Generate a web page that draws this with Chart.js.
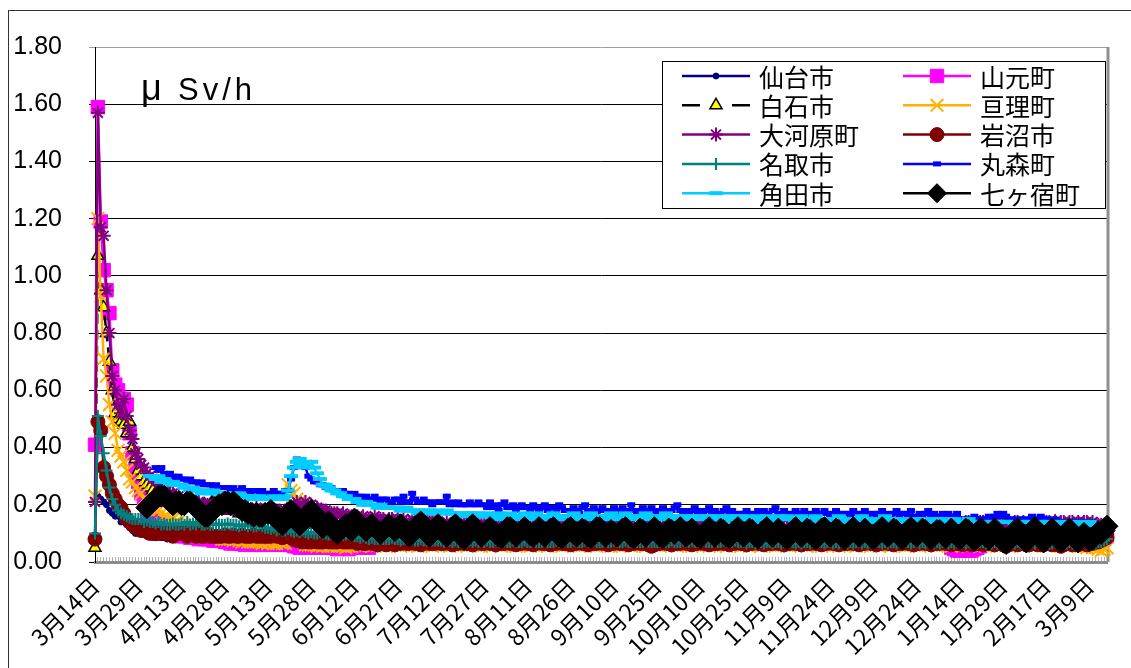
<!DOCTYPE html>
<html>
<head>
<meta charset="utf-8">
<script src="https://cdn.jsdelivr.net/npm/chart.js"></script>
<style>
  html, body { margin: 0; padding: 0; background: #fff; }
  canvas { display: block; }
</style>
</head>
<body>
<canvas id="doseChart" width="1131" height="668"></canvas>
<script>
// 宮城県南部 空間放射線量率 (μSv/h) 2011/3/14 - 2012/3/19

const firstDay = '2011-03-14'
const lastDay = '2012-03-19'
// 測定の無い日
const skippedDays = [
  '2011-12-29', '2011-12-30', '2011-12-31', '2012-01-01', '2012-01-02', '2012-01-03',
  '2012-02-04', '2012-02-05', '2012-02-11', '2012-02-12', '2012-02-18', '2012-02-19',
  '2012-02-25', '2012-02-26', '2012-03-03', '2012-03-04', '2012-03-10', '2012-03-11',
  '2012-03-17', '2012-03-18'
]

const dates = []
for (let d = new Date(firstDay + 'T00:00:00Z'); d <= new Date(lastDay + 'T00:00:00Z'); d.setUTCDate(d.getUTCDate() + 1)) {
  if (skippedDays.includes(d.toISOString().slice(0, 10))) continue
  dates.push((d.getUTCMonth() + 1) + '月' + d.getUTCDate() + '日')
}

const labelEvery = 15

const sendai = [
  null,0.23,0.22,0.21,0.20,0.18,0.17,0.16,0.16,0.14,0.15,0.13,0.12,0.11,0.10,
  0.10,0.10,0.095,0.09,0.09,0.09,0.085,0.09,0.085,0.085,0.08,0.085,0.08,0.08,0.08,
  0.08,0.08,0.075,0.08,0.075,0.08,0.08,0.075,0.08,0.075,0.08,0.075,0.075,0.08,0.075,
  0.08,0.08,0.075,0.08,0.08,0.075,0.08,0.075,0.08,0.075,0.075,0.08,0.075,0.075,0.075,
  0.075,0.075,0.07,0.075,0.075,0.07,0.075,0.07,0.07,0.07,0.07,0.07,0.07,0.07,0.07,
  0.07,0.07,0.07,0.065,0.07,0.07,0.065,0.07,0.07,0.065,0.07,0.065,0.065,0.07,0.065,
  0.065,0.07,0.065,0.065,0.065,0.07,0.065,0.065,0.065,0.065,0.07,0.065,0.065,0.065,0.065,
  0.065,0.065,0.07,0.065,0.065,0.065,0.065,0.06,0.065,0.065,0.065,0.065,0.06,0.065,0.065,
  0.065,0.065,0.065,0.06,0.065,0.065,0.065,0.065,0.06,0.065,0.065,0.065,0.06,0.065,0.065,
  0.065,0.06,0.065,0.065,0.065,0.065,0.06,0.065,0.065,0.065,0.06,0.065,0.065,0.06,0.065,
  0.065,0.065,0.06,0.065,0.065,0.065,0.06,0.065,0.065,0.06,0.065,0.065,0.065,0.06,0.065,
  0.065,0.06,0.065,0.065,0.06,0.065,0.065,0.065,0.06,0.065,0.065,0.06,0.065,0.065,0.06,
  0.065,0.065,0.06,0.065,0.065,0.06,0.065,0.065,0.065,0.06,0.065,0.065,0.06,0.065,0.065,
  0.06,0.065,0.065,0.06,0.065,0.065,0.06,0.065,0.065,0.06,0.065,0.065,0.065,0.06,0.065,
  0.065,0.06,0.065,0.065,0.06,0.065,0.06,0.065,0.065,0.06,0.065,0.06,0.065,0.065,0.06,
  0.065,0.06,0.06,0.065,0.06,0.065,0.06,0.06,0.065,0.06,0.065,0.06,0.06,0.065,0.06,
  0.06,0.065,0.06,0.06,0.065,0.06,0.06,0.065,0.06,0.06,0.065,0.06,0.06,0.065,0.06,
  0.06,0.06,0.065,0.06,0.06,0.065,0.06,0.06,0.06,0.065,0.06,0.06,0.065,0.06,0.06,
  0.06,0.065,0.06,0.06,0.06,0.065,0.06,0.06,0.065,0.06,0.06,0.06,0.065,0.06,0.06,
  0.06,0.06,0.065,0.06,0.06,0.06,0.065,0.06,0.06,0.06,0.065,0.06,0.06,0.06,0.06,
  0.06,0.065,0.06,0.06,0.06,0.06,0.065,0.06,0.06,0.06,0.06,0.065,0.06,0.06,0.06,
  0.06,0.06,0.06,0.065,0.06,0.06,0.06,0.06,0.065,0.06,0.06,0.06,0.06,0.065,0.06,
  0.06,0.06,0.065,0.06,0.06,0.06,0.06,0.065,0.06,0.06,0.06,0.065,0.06,0.06,0.06,
  0.06,0.065,0.06,0.06,0.065,0.07,0.075
]

const yamamoto = [
  0.41,1.59,1.19,1.02,0.95,0.87,0.67,0.62,0.60,0.57,0.57,0.55,0.45,0.38,0.32,
  0.28,0.24,0.21,0.18,0.16,0.15,0.14,0.13,0.12,0.12,0.11,0.11,0.10,0.10,0.10,
  0.09,0.09,0.09,0.085,0.09,0.085,0.08,0.085,0.08,0.08,0.08,0.075,0.075,0.08,0.075,
  0.07,0.07,0.065,0.065,0.07,0.065,0.065,0.06,0.065,0.065,0.06,0.065,0.065,0.06,0.065,
  0.065,0.065,0.06,0.065,0.065,0.06,0.065,0.06,0.06,0.055,0.055,0.05,0.055,0.05,0.05,
  0.05,0.055,0.05,0.05,0.05,0.055,0.05,0.05,0.05,0.045,0.05,0.05,0.05,0.045,0.05,
  0.05,0.05,0.05,0.05,0.055,0.05,0.06,0.065,0.065,0.07,0.065,0.065,0.07,0.065,0.065,
  null,null,null,null,null,null,null,null,null,null,null,null,null,null,null,
  null,null,null,null,null,null,null,null,null,null,null,null,null,null,null,
  null,null,null,null,null,null,null,null,null,null,null,null,null,null,null,
  null,null,null,null,null,null,null,null,null,null,null,null,null,null,null,
  null,null,null,null,null,null,null,null,null,null,null,null,null,null,null,
  null,null,null,null,null,null,null,null,null,null,null,null,null,null,null,
  null,null,null,null,null,null,null,null,null,null,null,null,null,null,null,
  null,null,null,null,null,null,null,null,null,null,null,null,null,null,null,
  null,null,null,null,null,null,null,null,null,null,null,null,null,null,null,
  null,null,null,null,null,null,null,null,null,null,null,null,null,null,null,
  null,null,null,null,null,null,null,null,null,null,null,null,null,null,null,
  null,null,null,null,null,null,null,null,null,null,null,null,null,null,null,
  null,null,null,null,null,null,null,null,null,null,null,null,0.05,0.045,0.04,
  0.04,0.04,0.045,0.04,0.04,0.045,0.05,0.055,null,null,null,null,null,null,null,
  null,null,null,null,null,null,null,null,null,null,null,null,null,null,null,
  null,null,null,null,null,null,null,null,null,null,null,null,null,null,null,
  null,null,null,null,0.07,0.08,0.09
]

const shiroishi = [
  0.05,1.07,0.95,0.89,0.80,0.70,0.60,0.52,0.50,0.49,0.48,0.45,0.49,0.40,0.36,
  0.32,0.30,0.28,0.27,0.26,0.25,0.24,0.24,0.23,0.23,0.22,0.22,0.21,0.22,0.21,
  0.21,0.20,0.21,0.20,0.20,0.21,0.20,0.19,0.20,0.19,0.20,0.25,0.19,0.19,0.18,
  0.18,0.19,0.18,0.18,0.18,0.17,0.18,0.17,0.17,0.17,0.17,0.16,0.17,0.16,0.16,
  0.16,0.16,0.15,0.15,0.15,0.14,0.15,0.15,0.14,0.14,0.14,0.14,0.14,0.13,0.14,
  0.13,0.13,0.13,0.12,0.12,0.12,0.12,0.12,0.11,0.11,0.11,0.11,0.11,0.11,0.11,
  0.11,0.11,0.10,0.11,0.10,0.10,0.10,0.11,0.10,0.10,0.10,0.10,0.10,0.10,0.10,
  0.10,0.10,0.09,0.10,0.10,0.09,0.10,0.10,0.10,0.09,0.10,0.10,0.09,0.10,0.10,
  0.10,0.09,0.10,0.10,0.09,0.10,0.10,0.10,0.09,0.10,0.10,0.09,0.10,0.10,0.09,
  0.10,0.10,0.09,0.10,0.10,0.09,0.10,0.09,0.10,0.10,0.09,0.10,0.10,0.09,0.10,
  0.10,0.09,0.10,0.10,0.09,0.10,0.10,0.09,0.10,0.10,0.10,0.09,0.10,0.10,0.09,
  0.10,0.10,0.09,0.10,0.10,0.09,0.10,0.10,0.09,0.10,0.10,0.09,0.10,0.09,0.10,
  0.09,0.10,0.10,0.09,0.10,0.10,0.09,0.10,0.10,0.09,0.10,0.10,0.09,0.10,0.10,
  0.10,0.09,0.10,0.10,0.09,0.10,0.10,0.09,0.10,0.09,0.10,0.10,0.09,0.10,0.10,
  0.09,0.10,0.10,0.09,0.10,0.10,0.09,0.10,0.10,0.09,0.10,0.09,0.10,0.10,0.09,
  0.10,0.10,0.09,0.10,0.09,0.10,0.10,0.09,0.10,0.10,0.09,0.10,0.10,0.09,0.10,
  0.09,0.10,0.10,0.09,0.10,0.10,0.09,0.10,0.09,0.10,0.10,0.09,0.10,0.10,0.09,
  0.10,0.09,0.10,0.10,0.09,0.10,0.10,0.09,0.10,0.10,0.09,0.10,0.09,0.10,0.10,
  0.09,0.10,0.10,0.09,0.10,0.09,0.10,0.10,0.09,0.10,0.10,0.09,0.10,0.10,0.09,
  0.10,0.10,0.09,0.10,0.10,0.09,0.10,0.09,0.10,0.10,0.09,0.10,0.10,0.09,0.10,
  0.09,0.10,0.10,0.09,0.10,0.10,0.09,0.10,0.10,0.09,0.10,0.09,0.10,0.10,0.09,
  0.10,0.09,0.10,0.10,0.09,0.10,0.10,0.09,0.10,0.10,0.09,0.10,0.10,0.09,0.10,
  0.10,0.10,0.10,0.14,0.10,0.10,0.10,0.09,0.10,0.09,0.10,0.10,0.09,0.10,0.10,
  0.10,0.09,0.10,0.10,0.09,0.10,0.11
]

const watari = [
  0.23,1.20,0.93,0.71,0.65,0.55,0.49,0.45,0.39,0.37,0.35,0.32,0.29,0.28,0.26,
  0.25,0.24,0.22,0.21,0.20,0.19,0.18,0.18,0.17,0.16,0.16,0.15,0.15,0.14,0.14,
  0.13,0.13,0.12,0.12,0.11,0.11,0.11,0.10,0.10,0.10,0.09,0.09,0.09,0.09,0.08,
  0.08,0.08,0.08,0.075,0.08,0.075,0.07,0.075,0.07,0.07,0.07,0.07,0.07,0.065,0.07,
  0.065,0.07,0.065,0.065,0.07,0.065,0.065,0.27,0.25,0.24,0.22,0.21,0.19,0.06,0.06,
  0.06,0.06,0.055,0.06,0.055,0.06,0.055,0.055,0.06,0.055,0.055,0.055,0.05,0.055,0.055,
  0.06,0.06,0.055,0.06,0.06,0.06,0.055,0.06,0.06,0.06,0.06,0.055,0.06,0.06,0.06,
  0.06,0.055,0.06,0.06,0.06,0.06,0.06,0.055,0.06,0.06,0.06,0.06,0.055,0.06,0.06,
  0.06,0.06,0.06,0.055,0.06,0.06,0.06,0.06,0.06,0.055,0.06,0.06,0.06,0.06,0.055,
  0.06,0.06,0.055,0.06,0.06,0.06,0.055,0.06,0.06,0.06,0.06,0.055,0.06,0.06,0.06,
  0.06,0.055,0.06,0.06,0.06,0.06,0.06,0.055,0.06,0.06,0.06,0.06,0.055,0.06,0.06,
  0.06,0.06,0.06,0.055,0.06,0.06,0.06,0.06,0.06,0.055,0.06,0.06,0.06,0.06,0.055,
  0.06,0.06,0.055,0.06,0.06,0.06,0.055,0.06,0.06,0.06,0.06,0.055,0.06,0.06,0.06,
  0.06,0.055,0.06,0.06,0.06,0.06,0.06,0.055,0.06,0.06,0.06,0.06,0.055,0.06,0.06,
  0.06,0.06,0.06,0.055,0.06,0.06,0.06,0.06,0.06,0.055,0.06,0.06,0.06,0.06,0.055,
  0.06,0.06,0.055,0.06,0.06,0.06,0.055,0.06,0.06,0.06,0.06,0.055,0.06,0.06,0.06,
  0.06,0.055,0.06,0.06,0.06,0.06,0.06,0.055,0.06,0.06,0.06,0.06,0.055,0.06,0.06,
  0.06,0.06,0.06,0.055,0.06,0.06,0.06,0.06,0.06,0.055,0.06,0.06,0.06,0.06,0.055,
  0.06,0.06,0.055,0.06,0.06,0.06,0.055,0.06,0.06,0.06,0.06,0.055,0.06,0.06,0.06,
  0.06,0.055,0.06,0.06,0.06,0.06,0.06,0.055,0.06,0.06,0.06,0.06,0.055,0.06,0.06,
  0.06,0.06,0.06,0.055,0.06,0.06,0.06,0.06,0.06,0.055,0.06,0.06,0.06,0.06,0.055,
  0.06,0.06,0.055,0.06,0.06,0.06,0.055,0.06,0.06,0.06,0.06,0.055,0.06,0.06,0.06,
  0.06,0.055,0.06,0.06,0.06,0.06,0.06,0.055,0.06,0.06,0.06,0.06,0.055,0.055,0.05,
  0.055,0.05,0.05,0.045,0.04,0.045,0.05
]

const ogawara = [
  0.21,1.57,1.17,1.14,0.95,0.80,0.65,0.60,0.55,0.52,0.57,0.51,0.46,0.43,0.38,
  0.36,0.34,0.33,0.31,0.30,0.29,0.28,0.27,0.26,0.25,0.25,0.24,0.24,0.23,0.23,
  0.21,0.21,0.20,0.21,0.20,0.20,0.21,0.20,0.20,0.20,0.19,0.20,0.19,0.20,0.19,
  0.19,0.19,0.19,0.19,0.18,0.19,0.19,0.18,0.19,0.18,0.18,0.19,0.18,0.18,0.18,
  0.18,0.18,0.18,0.18,0.18,0.17,0.18,0.18,0.19,0.20,0.21,0.20,0.20,0.21,0.20,
  0.20,0.19,0.19,0.18,0.18,0.18,0.17,0.17,0.17,0.17,0.16,0.17,0.16,0.16,0.16,
  0.16,0.16,0.15,0.16,0.15,0.15,0.15,0.16,0.15,0.15,0.15,0.14,0.15,0.15,0.14,
  0.15,0.14,0.15,0.14,0.14,0.15,0.14,0.14,0.14,0.15,0.14,0.14,0.14,0.14,0.14,
  0.13,0.13,0.14,0.13,0.13,0.13,0.13,0.14,0.13,0.13,0.13,0.13,0.13,0.13,0.13,
  0.13,0.12,0.13,0.13,0.12,0.13,0.12,0.13,0.13,0.12,0.13,0.12,0.13,0.13,0.12,
  0.12,0.13,0.13,0.12,0.13,0.13,0.12,0.13,0.12,0.13,0.13,0.12,0.13,0.12,0.13,
  0.13,0.13,0.12,0.13,0.12,0.13,0.13,0.12,0.13,0.13,0.12,0.13,0.12,0.13,0.13,
  0.13,0.12,0.13,0.13,0.12,0.13,0.12,0.13,0.13,0.12,0.13,0.12,0.13,0.13,0.12,
  0.12,0.13,0.13,0.12,0.13,0.13,0.12,0.13,0.12,0.13,0.13,0.12,0.13,0.12,0.13,
  0.13,0.13,0.12,0.13,0.12,0.13,0.13,0.12,0.13,0.13,0.12,0.13,0.12,0.13,0.13,
  0.13,0.12,0.13,0.13,0.12,0.13,0.12,0.13,0.13,0.12,0.13,0.12,0.13,0.13,0.12,
  0.12,0.13,0.13,0.12,0.13,0.13,0.12,0.13,0.12,0.13,0.13,0.12,0.13,0.12,0.13,
  0.13,0.13,0.12,0.13,0.12,0.13,0.13,0.12,0.13,0.13,0.12,0.13,0.12,0.13,0.13,
  0.13,0.12,0.13,0.13,0.12,0.13,0.12,0.13,0.13,0.12,0.13,0.12,0.13,0.13,0.12,
  0.12,0.13,0.13,0.12,0.13,0.13,0.12,0.13,0.12,0.13,0.13,0.12,0.13,0.12,0.13,
  0.14,0.13,0.14,0.14,0.13,0.14,0.13,0.14,0.14,0.13,0.14,0.13,0.14,0.14,0.13,
  0.13,0.14,0.14,0.13,0.14,0.14,0.13,0.14,0.13,0.14,0.14,0.13,0.14,0.13,0.14,
  0.14,0.14,0.13,0.14,0.13,0.14,0.14,0.13,0.14,0.14,0.13,0.14,0.13,0.14,0.14,
  0.13,0.14,0.13,0.13,0.13,0.13,0.13
]

const iwanuma = [
  0.08,0.49,0.46,0.33,0.30,0.27,0.24,0.22,0.20,0.19,0.17,0.15,0.14,0.13,0.12,
  0.12,0.11,0.11,0.11,0.10,0.10,0.10,0.10,0.11,0.10,0.10,0.10,0.09,0.10,0.10,
  0.10,0.10,0.09,0.10,0.10,0.09,0.10,0.09,0.09,0.10,0.09,0.09,0.09,0.09,0.09,
  0.095,0.09,0.09,0.095,0.09,0.09,0.095,0.09,0.09,0.09,0.095,0.09,0.09,0.09,0.09,
  0.09,0.09,0.095,0.09,0.09,0.085,0.09,0.09,0.085,0.08,0.075,0.075,0.07,0.075,0.07,
  0.07,0.075,0.07,0.07,0.07,0.075,0.07,0.07,0.07,0.07,0.075,0.07,0.07,0.07,0.07,
  0.07,0.065,0.07,0.065,0.065,0.07,0.065,0.065,0.06,0.065,0.065,0.06,0.065,0.065,0.06,
  0.07,0.065,0.07,0.065,0.065,0.07,0.065,0.065,0.06,0.065,0.07,0.065,0.065,0.065,0.07,
  0.065,0.065,0.07,0.065,0.06,0.065,0.065,0.07,0.065,0.065,0.065,0.06,0.065,0.07,0.065,
  0.065,0.07,0.065,0.065,0.06,0.065,0.065,0.065,0.07,0.065,0.065,0.06,0.065,0.065,0.07,
  0.065,0.065,0.06,0.065,0.07,0.065,0.065,0.065,0.06,0.065,0.065,0.07,0.065,0.065,0.065,
  0.06,0.065,0.065,0.07,0.065,0.065,0.06,0.065,0.065,0.065,0.07,0.065,0.065,0.06,0.065,
  0.065,0.07,0.065,0.065,0.065,0.06,0.065,0.065,0.07,0.065,0.065,0.065,0.06,0.055,0.06,
  0.065,0.065,0.07,0.065,0.065,0.06,0.065,0.065,0.065,0.07,0.065,0.065,0.06,0.065,0.065,
  0.07,0.065,0.065,0.06,0.065,0.065,0.065,0.07,0.065,0.065,0.06,0.065,0.065,0.07,0.065,
  0.065,0.06,0.065,0.065,0.07,0.065,0.065,0.06,0.065,0.065,0.065,0.07,0.065,0.065,0.06,
  0.065,0.065,0.07,0.065,0.065,0.06,0.065,0.065,0.065,0.07,0.065,0.065,0.06,0.065,0.065,
  0.07,0.065,0.065,0.06,0.065,0.065,0.065,0.07,0.065,0.065,0.06,0.065,0.065,0.07,0.065,
  0.065,0.06,0.065,0.065,0.07,0.065,0.065,0.06,0.065,0.065,0.065,0.07,0.065,0.065,0.06,
  0.065,0.065,0.07,0.065,0.065,0.06,0.065,0.065,0.065,0.07,0.065,0.065,0.06,0.065,0.065,
  0.065,0.06,0.065,0.065,0.06,0.065,0.065,0.065,0.06,0.065,0.065,0.065,0.06,0.065,0.065,
  0.06,0.055,0.06,0.065,0.065,0.06,0.065,0.065,0.06,0.06,0.065,0.065,0.06,0.065,0.06,
  0.065,0.065,0.06,0.065,0.06,0.055,0.06,0.065,0.065,0.06,0.065,0.06,0.065,0.065,0.06,
  0.065,0.065,0.07,0.07,0.075,0.08,0.085
]

const natori = [
  0.10,0.51,0.44,0.38,0.32,0.26,0.22,0.20,0.18,0.17,0.165,0.16,0.155,0.15,0.15,
  0.15,0.15,0.14,0.145,0.14,0.14,0.135,0.14,0.13,0.135,0.13,0.13,0.135,0.13,0.13,
  0.135,0.13,0.14,0.13,0.135,0.13,0.14,0.13,0.13,0.135,0.13,0.13,0.135,0.13,0.13,
  0.13,0.135,0.13,0.13,0.13,0.125,0.13,0.13,0.125,0.13,0.125,0.125,0.13,0.125,0.12,
  0.12,0.115,0.12,0.11,0.115,0.11,0.11,0.115,0.11,0.105,0.11,0.105,0.11,0.105,0.10,
  0.105,0.10,0.10,0.105,0.10,0.10,0.095,0.10,0.10,0.095,0.10,0.095,0.095,0.10,0.095,
  0.09,0.09,0.085,0.09,0.085,0.08,0.085,0.08,0.08,0.085,0.08,0.08,0.08,0.085,0.08,
  0.08,0.075,0.08,0.08,0.075,0.08,0.075,0.075,0.08,0.075,0.075,0.08,0.075,0.075,0.075,
  0.075,0.07,0.075,0.075,0.07,0.075,0.07,0.075,0.075,0.07,0.075,0.07,0.075,0.07,0.075,
  0.07,0.075,0.07,0.07,0.075,0.07,0.07,0.075,0.07,0.07,0.075,0.07,0.07,0.07,0.075,
  0.07,0.07,0.075,0.07,0.07,0.07,0.075,0.07,0.07,0.07,0.075,0.07,0.07,0.075,0.07,
  0.07,0.075,0.07,0.07,0.07,0.075,0.07,0.07,0.075,0.07,0.07,0.07,0.075,0.07,0.07,
  0.075,0.07,0.07,0.07,0.075,0.07,0.07,0.075,0.07,0.07,0.07,0.075,0.07,0.07,0.07,
  0.07,0.07,0.075,0.07,0.07,0.075,0.07,0.07,0.07,0.075,0.07,0.07,0.075,0.07,0.07,
  0.07,0.075,0.07,0.07,0.07,0.075,0.07,0.07,0.075,0.07,0.07,0.07,0.075,0.07,0.07,
  0.07,0.065,0.07,0.07,0.065,0.07,0.07,0.065,0.07,0.07,0.065,0.07,0.07,0.065,0.07,
  0.065,0.07,0.07,0.065,0.07,0.065,0.07,0.07,0.065,0.07,0.065,0.07,0.07,0.065,0.07,
  0.07,0.065,0.07,0.065,0.07,0.07,0.065,0.07,0.065,0.07,0.07,0.065,0.07,0.065,0.07,
  0.065,0.07,0.07,0.065,0.07,0.065,0.07,0.07,0.065,0.07,0.065,0.07,0.07,0.065,0.07,
  0.07,0.065,0.07,0.065,0.07,0.07,0.065,0.07,0.065,0.07,0.07,0.065,0.07,0.065,0.07,
  0.065,0.07,0.065,0.07,0.065,0.07,0.065,0.07,0.07,0.065,0.07,0.065,0.07,0.065,0.07,
  0.065,0.065,0.07,0.065,0.065,0.07,0.065,0.07,0.065,0.065,0.07,0.065,0.07,0.065,0.065,
  0.07,0.065,0.065,0.07,0.065,0.07,0.065,0.065,0.07,0.065,0.065,0.07,0.065,0.07,0.065,
  0.065,0.07,0.065,0.07,0.07,0.075,0.08
]

const marumori = [
  null,null,null,null,null,null,null,null,null,null,null,null,null,null,null,
  null,null,null,null,null,null,0.33,0.32,0.33,0.31,0.30,0.31,0.30,0.29,0.30,
  0.29,0.29,0.28,0.29,0.28,0.28,0.27,0.28,0.27,0.27,0.27,0.26,0.27,0.26,0.26,
  0.26,0.26,0.25,0.26,0.25,0.25,0.26,0.25,0.25,0.24,0.25,0.25,0.24,0.25,0.24,
  0.24,0.24,0.25,0.24,0.24,0.24,0.25,0.25,0.29,0.33,0.36,0.35,0.34,0.33,0.30,
  0.29,0.28,0.28,0.27,0.27,0.26,0.26,0.26,0.25,0.25,0.24,0.25,0.24,0.24,0.23,
  0.24,0.23,0.23,0.22,0.23,0.22,0.22,0.23,0.22,0.21,0.22,0.22,0.21,0.21,0.22,
  0.22,0.21,0.23,0.21,0.21,0.24,0.22,0.21,0.21,0.22,0.21,0.21,0.20,0.21,0.21,
  0.21,0.21,0.23,0.20,0.21,0.20,0.21,0.20,0.20,0.20,0.21,0.20,0.20,0.21,0.20,
  0.20,0.19,0.21,0.19,0.20,0.18,0.20,0.21,0.19,0.19,0.20,0.18,0.19,0.20,0.19,
  0.19,0.18,0.20,0.19,0.18,0.19,0.20,0.18,0.19,0.19,0.18,0.20,0.19,0.18,0.18,
  0.18,0.19,0.18,0.17,0.19,0.20,0.18,0.18,0.19,0.17,0.18,0.19,0.18,0.17,0.18,
  0.19,0.18,0.17,0.19,0.18,0.18,0.20,0.18,0.17,0.18,0.19,0.18,0.17,0.19,0.18,
  0.17,0.18,0.19,0.18,0.17,0.18,0.19,0.20,0.18,0.17,0.18,0.17,0.18,0.19,0.17,
  0.18,0.17,0.18,0.19,0.17,0.18,0.17,0.17,0.18,0.19,0.17,0.18,0.17,0.16,0.17,
  0.17,0.18,0.17,0.16,0.17,0.18,0.17,0.18,0.17,0.16,0.18,0.19,0.17,0.17,0.18,
  0.17,0.16,0.17,0.18,0.17,0.17,0.18,0.17,0.16,0.17,0.18,0.17,0.17,0.18,0.17,
  0.16,0.17,0.18,0.17,0.16,0.17,0.17,0.16,0.18,0.17,0.16,0.17,0.18,0.16,0.17,
  0.17,0.16,0.17,0.18,0.16,0.17,0.16,0.17,0.18,0.16,0.17,0.17,0.16,0.18,0.16,
  0.16,0.17,0.16,0.17,0.18,0.16,0.17,0.16,0.16,0.17,0.16,0.17,0.16,0.16,0.17,
  0.15,0.15,0.15,0.15,0.15,0.16,0.15,0.15,0.15,0.15,0.16,0.15,0.16,0.17,0.16,
  0.17,0.16,0.15,0.15,0.15,0.15,0.15,0.15,0.15,0.15,0.16,0.15,0.15,0.16,0.15,
  0.15,0.15,0.14,0.15,0.14,0.14,0.14,0.14,0.14,0.14,0.14,0.13,0.14,0.14,0.13,
  0.13,0.14,0.13,0.13,0.13,0.13,0.13
]

const kakuda = [
  null,null,null,null,null,null,null,null,null,null,null,null,null,null,null,
  null,null,null,null,0.30,0.30,0.29,0.30,0.28,0.29,0.28,0.27,0.28,0.27,0.27,
  0.27,0.26,0.26,0.25,0.26,0.25,0.25,0.24,0.25,0.25,0.24,0.25,0.24,0.24,0.24,
  0.24,0.23,0.24,0.23,0.23,0.24,0.23,0.23,0.22,0.23,0.23,0.22,0.23,0.22,0.22,
  0.22,0.22,0.23,0.22,0.22,0.22,0.23,0.25,0.30,0.33,0.35,0.36,0.34,0.35,0.33,
  0.35,0.33,0.31,0.29,0.27,0.27,0.26,0.25,0.25,0.24,0.24,0.23,0.23,0.22,0.22,
  0.22,0.21,0.21,0.20,0.21,0.20,0.20,0.20,0.19,0.20,0.19,0.19,0.19,0.19,0.19,
  0.19,0.18,0.18,0.19,0.18,0.18,0.18,0.17,0.18,0.18,0.17,0.18,0.17,0.17,0.18,
  0.17,0.17,0.18,0.17,0.17,0.17,0.16,0.17,0.17,0.16,0.17,0.17,0.16,0.17,0.16,
  0.16,0.17,0.16,0.15,0.16,0.17,0.16,0.15,0.16,0.17,0.16,0.15,0.16,0.16,0.17,
  0.16,0.15,0.16,0.17,0.16,0.15,0.16,0.16,0.15,0.17,0.16,0.15,0.16,0.16,0.15,
  0.16,0.17,0.15,0.16,0.16,0.15,0.16,0.17,0.16,0.15,0.16,0.16,0.15,0.16,0.17,
  0.15,0.16,0.16,0.15,0.17,0.16,0.15,0.16,0.16,0.15,0.16,0.17,0.15,0.16,0.15,
  0.16,0.15,0.16,0.17,0.15,0.16,0.15,0.16,0.16,0.15,0.16,0.15,0.16,0.16,0.15,
  0.15,0.16,0.15,0.16,0.16,0.15,0.16,0.15,0.14,0.16,0.15,0.16,0.15,0.15,0.16,
  0.15,0.16,0.15,0.14,0.15,0.16,0.15,0.15,0.16,0.15,0.14,0.15,0.16,0.15,0.15,
  0.16,0.15,0.15,0.14,0.15,0.16,0.15,0.14,0.15,0.15,0.16,0.15,0.14,0.15,0.15,
  0.15,0.14,0.15,0.16,0.15,0.15,0.14,0.15,0.15,0.14,0.15,0.16,0.15,0.14,0.15,
  0.15,0.15,0.14,0.15,0.16,0.15,0.14,0.15,0.15,0.14,0.15,0.15,0.14,0.15,0.14,
  0.15,0.14,0.15,0.14,0.15,0.15,0.14,0.15,0.14,0.14,0.15,0.14,0.14,0.15,0.14,
  0.14,0.14,0.14,0.15,0.14,0.14,0.14,0.14,0.14,0.14,0.14,0.14,0.14,0.14,0.14,
  0.14,0.14,0.14,0.14,0.13,0.14,0.14,0.14,0.14,0.14,0.14,0.13,0.14,0.14,0.14,
  0.14,0.13,0.14,0.14,0.14,0.13,0.14,0.14,0.13,0.14,0.14,0.13,0.14,0.13,0.14,
  0.14,0.13,0.13,0.13,0.12,0.12,0.12
]

const shichikashuku = [
  null,null,null,null,null,null,null,null,null,null,null,null,null,null,null,
  null,null,null,0.19,0.20,0.21,0.22,0.23,0.23,0.23,0.22,0.21,0.20,0.21,0.21,
  0.20,0.20,0.21,0.21,0.20,0.19,0.18,0.17,0.16,0.16,0.17,0.18,0.19,0.20,0.20,
  0.21,0.21,0.20,0.21,0.20,0.19,0.18,0.18,0.17,0.17,0.16,0.17,0.16,0.16,0.17,
  0.17,0.18,0.17,0.15,0.14,0.13,0.15,0.17,0.18,0.16,0.14,0.13,0.14,0.16,0.17,
  0.18,0.17,0.15,0.13,0.12,0.13,0.14,0.13,0.11,0.10,0.11,0.12,0.13,0.12,0.11,
  0.15,0.14,0.13,0.12,0.11,0.12,0.13,0.12,0.11,0.10,0.11,0.12,0.13,0.12,0.11,
  0.12,0.13,0.12,0.10,0.09,0.10,0.12,0.13,0.14,0.12,0.10,0.09,0.10,0.12,0.13,
  0.12,0.10,0.09,0.10,0.12,0.13,0.11,0.09,0.08,0.10,0.12,0.13,0.12,0.10,0.09,
  0.10,0.11,0.12,0.11,0.10,0.09,0.085,0.10,0.12,0.12,0.11,0.09,0.10,0.11,0.12,
  0.11,0.095,0.09,0.10,0.12,0.11,0.09,0.10,0.115,0.12,0.10,0.09,0.085,0.10,0.115,
  0.12,0.10,0.09,0.10,0.115,0.11,0.09,0.085,0.10,0.12,0.12,0.10,0.09,0.10,0.11,
  0.10,0.09,0.10,0.115,0.12,0.10,0.09,0.085,0.10,0.115,0.11,0.09,0.10,0.11,0.12,
  0.10,0.09,0.085,0.10,0.115,0.11,0.10,0.11,0.12,0.10,0.09,0.10,0.115,0.10,0.09,
  0.085,0.10,0.11,0.12,0.10,0.09,0.10,0.115,0.11,0.09,0.085,0.10,0.11,0.12,0.10,
  0.09,0.10,0.115,0.11,0.09,0.085,0.10,0.11,0.12,0.10,0.09,0.10,0.115,0.10,0.09,
  0.08,0.10,0.11,0.12,0.10,0.09,0.10,0.115,0.11,0.09,0.08,0.10,0.115,0.12,0.10,
  0.09,0.10,0.115,0.11,0.09,0.08,0.10,0.11,0.12,0.10,0.09,0.10,0.115,0.10,0.09,
  0.08,0.10,0.11,0.12,0.10,0.09,0.10,0.115,0.11,0.09,0.08,0.10,0.11,0.12,0.10,
  0.09,0.10,0.115,0.11,0.09,0.08,0.10,0.11,0.11,0.10,0.085,0.10,0.115,0.10,0.09,
  0.08,0.095,0.115,0.11,0.09,0.075,0.095,0.115,0.11,0.09,0.08,0.10,0.115,0.105,0.085,
  0.07,0.065,0.075,0.09,0.11,0.115,0.10,0.08,0.07,0.09,0.11,0.12,0.10,0.08,0.07,
  0.085,0.105,0.115,0.10,0.08,0.07,0.085,0.105,0.115,0.10,0.08,0.07,0.085,0.10,0.09,
  0.075,0.08,0.095,0.105,0.10,0.11,0.125
]

// 凡例は2列、行ごとに左→右の順
const seriesNames = ['仙台市', '山元町', '白石市', '亘理町', '大河原町', '岩沼市', '名取市', '丸森町', '角田市', '七ヶ宿町']
const seriesValues = [sendai, yamamoto, shiroishi, watari, ogawara, iwanuma, natori, marumori, kakuda, shichikashuku]

const looks = [
  { line: '#000080', point: 'circle', r: 3, fill: '#000080', edge: '#000080', bw: 1 },
  { line: '#FF00FF', point: 'rect', r: 9.5, fill: '#FF00FF', edge: '#FF00FF', bw: 1 },
  { line: '#000000', dash: [10, 6], point: 'triangle', r: 7, fill: '#FFFF00', edge: '#000000', bw: 1.5 },
  { line: '#FFB000', point: 'crossRot', r: 9, fill: '#FFB000', edge: '#FFB000', bw: 2 },
  { line: '#800080', point: 'star', r: 7, fill: '#800080', edge: '#800080', bw: 2 },
  { line: '#800000', point: 'circle', r: 7, fill: '#800000', edge: '#800000', bw: 1 },
  { line: '#008080', point: 'cross', r: 6, fill: '#008080', edge: '#008080', bw: 2 },
  { line: '#0000FF', point: 'line', r: 4, fill: '#0000FF', edge: '#0000FF', bw: 5 },
  { line: '#00CCFF', point: 'line', r: 7, fill: '#00CCFF', edge: '#00CCFF', bw: 4 },
  { line: '#000000', point: 'rectRot', r: 11, fill: '#000000', edge: '#000000', bw: 1 }
]

seriesValues.forEach((v, k) => {
  if (v.length !== dates.length) console.warn(seriesNames[k], v.length, dates.length)
})

const datasets = seriesNames.map((name, k) => ({
  label: name,
  data: seriesValues[k],
  borderColor: looks[k].line,
  borderWidth: 2.5,
  borderDash: looks[k].dash || [],
  pointStyle: looks[k].point,
  pointRadius: looks[k].r,
  pointHoverRadius: looks[k].r,
  pointBackgroundColor: looks[k].fill,
  pointBorderColor: looks[k].edge,
  pointBorderWidth: looks[k].bw,
  tension: 0,
  spanGaps: false,
  clip: false,
  order: seriesNames.length - k
}))

const decor = {
  id: 'decor',
  beforeDraw(chart) {
    const { ctx, width, height } = chart
    ctx.save()
    ctx.fillStyle = '#fff'
    ctx.fillRect(0, 0, width, height)
    ctx.strokeStyle = '#333'
    ctx.lineWidth = 1
    ctx.strokeRect(8.5, 10.5, width, height)
    ctx.restore()
  },
  beforeDatasetsDraw(chart) {
    const { ctx, chartArea: a } = chart
    ctx.save()
    ctx.strokeStyle = '#909090'
    ctx.lineWidth = 3
    ctx.beginPath()
    ctx.moveTo(a.right + 1, a.top)
    ctx.lineTo(a.right + 1, a.bottom)
    ctx.stroke()
    ctx.restore()
  },
  afterDraw(chart) {
    const { ctx, chartArea: a } = chart
    ctx.save()

    // 単位
    ctx.fillStyle = '#000'
    ctx.textBaseline = 'alphabetic'
    ctx.font = '36px "Liberation Sans", Arial, sans-serif'
    ctx.fillText('μ', a.left + 46, a.top + 53)
    ctx.font = '31px "Liberation Sans", Arial, sans-serif'
    ctx.letterSpacing = '4px'
    ctx.fillText('Sv/h', a.left + 83, a.top + 53)
    ctx.letterSpacing = '0px'

    // 凡例
    const boxL = a.right - 445, boxT = a.top + 14, boxW = 443, boxH = 147
    ctx.fillStyle = '#fff'
    ctx.fillRect(boxL, boxT, boxW, boxH)
    ctx.strokeStyle = '#000'
    ctx.lineWidth = 1
    ctx.strokeRect(boxL + 0.5, boxT + 0.5, boxW, boxH)

    ctx.font = '25px "Noto Sans CJK JP", sans-serif'
    ctx.textBaseline = 'middle'
    ctx.textAlign = 'left'
    chart.data.datasets.forEach((ds, k) => {
      const col = k % 2, row = Math.floor(k / 2)
      const x0 = boxL + 20 + col * 221
      const y = boxT + 15 + row * 29.3
      ctx.strokeStyle = ds.borderColor
      ctx.lineWidth = 2.5
      ctx.beginPath()
      if (ds.borderDash.length) {
        ctx.moveTo(x0, y); ctx.lineTo(x0 + 18, y)
        ctx.moveTo(x0 + 50, y); ctx.lineTo(x0 + 68, y)
      } else {
        ctx.moveTo(x0, y); ctx.lineTo(x0 + 68, y)
      }
      ctx.stroke()
      if (Chart.helpers && Chart.helpers.drawPoint) {
        ctx.fillStyle = ds.pointBackgroundColor
        ctx.strokeStyle = ds.pointBorderColor
        ctx.lineWidth = ds.pointBorderWidth
        Chart.helpers.drawPoint(ctx, {
          pointStyle: ds.pointStyle, radius: Math.min(ds.pointRadius, 9.5), rotation: 0, borderWidth: ds.pointBorderWidth
        }, x0 + 34, y)
      }
      ctx.fillStyle = '#000'
      ctx.fillText(ds.label, x0 + 77, y + 1)
    })
    ctx.restore()
  }
}

new Chart('doseChart', {
  type: 'line',
  data: { labels: dates, datasets },
  options: {
    responsive: false,
    animation: false,
    events: [],
    layout: { padding: { left: 0, top: 47, right: 24, bottom: 0 } },
    plugins: { legend: { display: false }, tooltip: { enabled: false } },
    scales: {
      x: {
        ticks: {
          autoSkip: false,
          maxRotation: 45,
          minRotation: 45,
          padding: 15,
          color: '#000',
          font: { size: 23, family: '"Noto Sans CJK JP", sans-serif' },
          callback(value, index) {
            return index % labelEvery === 0 ? this.getLabelForValue(value) : ''
          }
        },
        grid: { drawOnChartArea: false, drawTicks: true, tickLength: -5, color: '#b4b4b4', lineWidth: 1 },
        border: { color: '#8c8c8c', width: 3 },
        afterFit(scale) {
          scale.height = 106
          scale.paddingLeft = 0
          scale.paddingRight = 0
        }
      },
      y: {
        min: 0,
        max: 1.8,
        ticks: {
          stepSize: 0.2,
          padding: 27,
          color: '#000',
          font: { size: 25, family: '"Liberation Sans", Arial, sans-serif' },
          callback: v => v.toFixed(2)
        },
        grid: {
          color: c => (c.tick && c.tick.value > 1.79 ? '#a0a0a0' : '#000'),
          tickLength: 6,
          lineWidth: 1
        },
        border: { color: '#000', width: 1 },
        afterFit(scale) { scale.width = 95 }
      }
    }
  },
  plugins: [decor]
})
</script>
</body>
</html>
